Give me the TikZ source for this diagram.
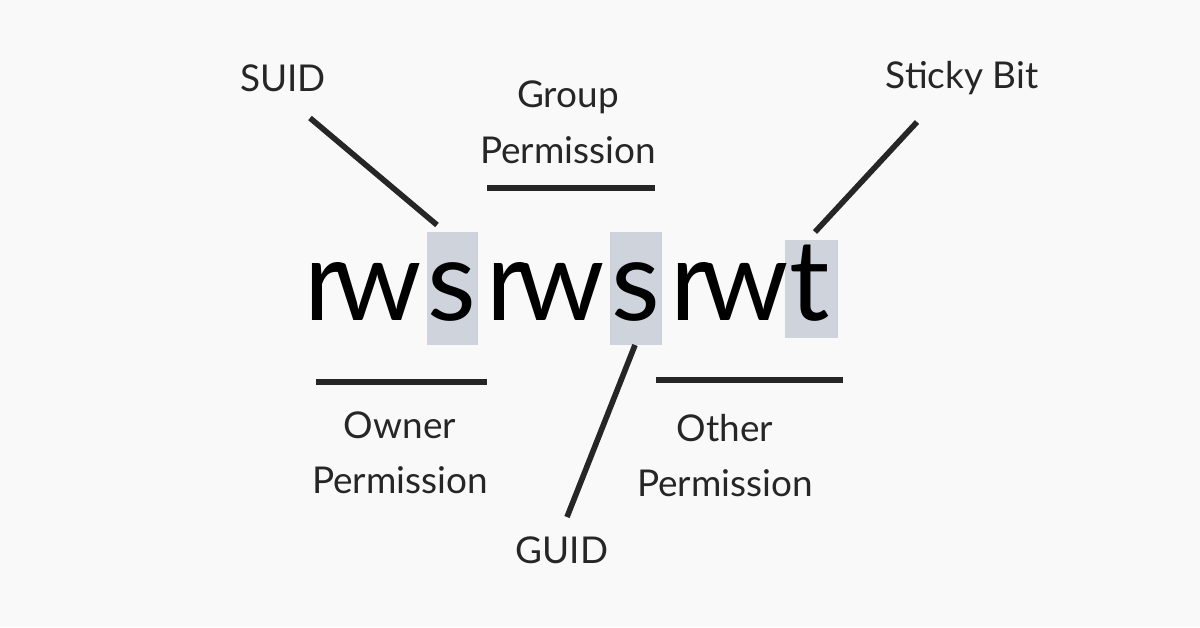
\documentclass[tikz,border=0pt]{standalone}
\usepackage{fontspec}
\setmainfont{Lato}
\definecolor{hl}{HTML}{CFD4DC}
\definecolor{bg}{HTML}{F9F9F9}
\begin{document}
\begin{tikzpicture}[x=0.01cm,y=-0.01cm,
    lab/.style={font=\fontsize{10.5}{13}\selectfont, text=black!85},
    ltr/.style={font=\fontsize{32}{36}\selectfont, inner sep=0pt, anchor=base},
    box/.style={fill=hl, draw=none},
    rule/.style={line width=1.6pt, black!85}]
    \fill[bg] (0,0) rectangle (1200,627);

    % highlight boxes
    \fill[box] (427,232) rectangle (478,345);
    \fill[box] (610,232) rectangle (662,345);
    \fill[box] (785,240) rectangle (838,338);

    % the word
    \node[ltr] (r1) at (325,320) {r};
    \node[ltr] (w1) at (378,320) {w};
    \node[ltr] (s1) at (452,320) {s};
    \node[ltr] (r2) at (507,320) {r};
    \node[ltr] (w2) at (561,320) {w};
    \node[ltr] (s2) at (636,320) {s};
    \node[ltr] (r3) at (691,320) {r};
    \node[ltr] (w3) at (745,320) {w};
    \node[ltr] (t1) at (810,320) {t};

    % labels
    \node[lab] (suid) at (283,78) {SUID};
    \node[lab] (grp1) at (568,97) {Group};
    \node[lab] (grp2) at (568,150) {Permission};
    \node[lab] (sticky) at (962,78) {Sticky Bit};
    \node[lab] (own1) at (400,425) {Owner};
    \node[lab] (own2) at (400,480) {Permission};
    \node[lab] (oth1) at (725,428) {Other};
    \node[lab] (oth2) at (725,483) {Permission};
    \node[lab] (guid) at (562,550) {GUID};

    \coordinate (suidA) at (310,118); \coordinate (suidB) at (437,225);
    \coordinate (grpA) at (487,188);  \coordinate (grpB) at (655,188);
    \coordinate (stA) at (917,122);   \coordinate (stB) at (815,232);
    \coordinate (ownA) at (316,382);  \coordinate (ownB) at (487,382);
    \coordinate (guA) at (635,345);   \coordinate (guB) at (567,517);
    \coordinate (othA) at (656,380);  \coordinate (othB) at (843,380);

    \draw[rule] (suidA) -- (suidB);
    \draw[rule] (grpA) -- (grpB);
    \draw[rule] (stA) -- (stB);
    \draw[rule] (ownA) -- (ownB);
    \draw[rule] (guA) -- (guB);
    \draw[rule] (othA) -- (othB);
\end{tikzpicture}
\end{document}
